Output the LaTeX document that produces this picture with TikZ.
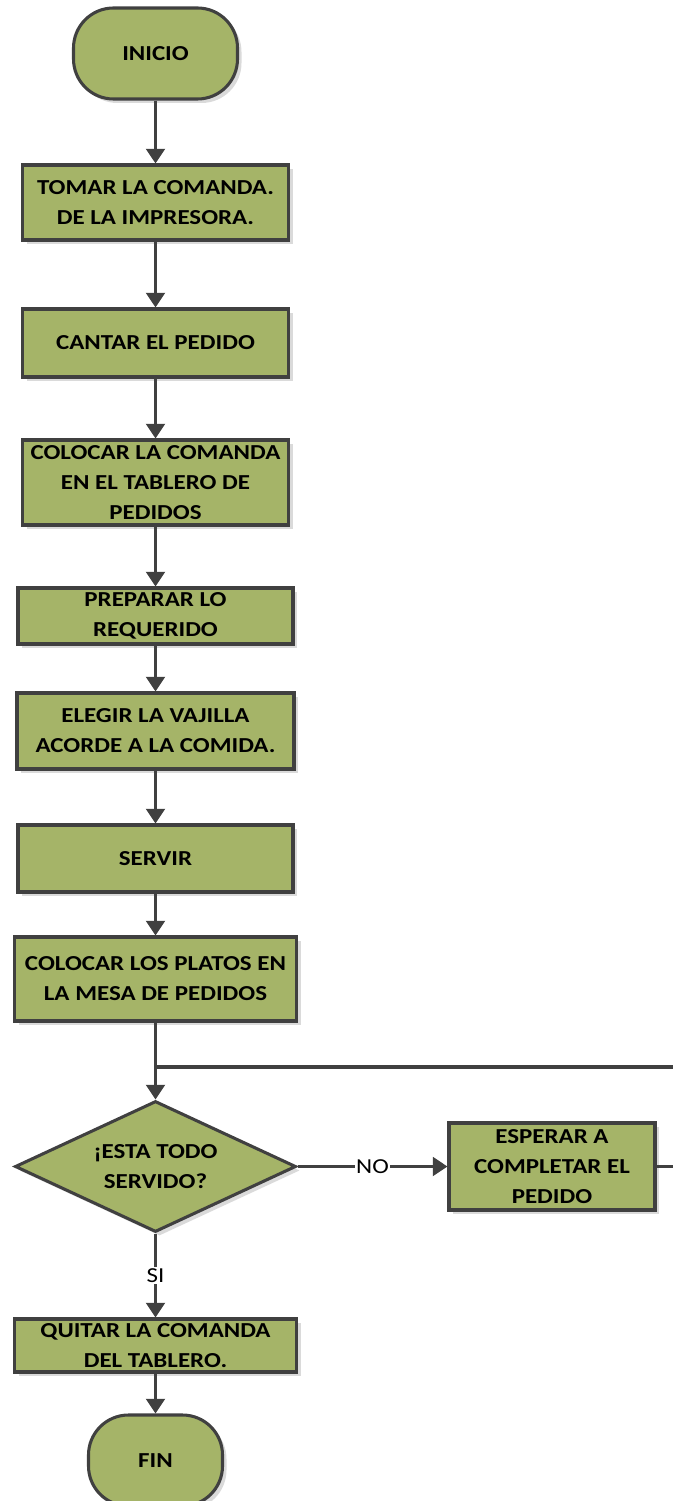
\documentclass[tikz,border=0pt]{standalone}
\usepackage{fontspec}
\setmainfont{Carlito}[FakeStretch=1.17]
\usetikzlibrary{arrows.meta,shapes.geometric,shadows}
\definecolor{boxfill}{RGB}{165,180,104}
\definecolor{edge}{RGB}{64,64,64}
\definecolor{shade}{RGB}{218,218,218}
\tikzset{
  txt/.style={align=center, inner sep=0pt, font=\bfseries\fontsize{16}{22.5}\selectfont},
  base/.style={draw=edge, line width=2.3pt, fill=boxfill, inner sep=0pt, txt,
    drop shadow={shadow xshift=3pt, shadow yshift=-3pt, fill=shade, opacity=1}},
  proc/.style={base, rectangle},
  term/.style={base, rectangle, rounded corners=30pt},
  decis/.style={base, diamond},
  conn/.style={draw=edge, line width=2.3pt},
  arr/.style={conn, -{Triangle[width=14pt,length=11pt]}},
  lbl/.style={fill=white, inner sep=1pt, font=\fontsize{16}{18}\selectfont}
}
\begin{document}
\begin{tikzpicture}[x=0.75pt,y=-0.75pt]
\useasboundingbox (0,0) rectangle (673,1501);
\node[term, minimum width=123pt, minimum height=68.25pt] (ini) at (155.5,53.5) {INICIO};
\node[proc, minimum width=199.5pt, minimum height=56.25pt] (b1) at (155.5,202.5) {TOMAR LA COMANDA.\\DE LA IMPRESORA.};
\node[proc, minimum width=199.5pt, minimum height=51pt] (b2) at (155.5,343) {CANTAR EL PEDIDO};
\node[proc, minimum width=199.5pt, minimum height=63.75pt] (b3) at (155.5,482.5) {COLOCAR LA COMANDA\\EN EL TABLERO DE\\PEDIDOS};
\node[proc, minimum width=206.25pt, minimum height=42pt] (b4) at (155.5,616) {PREPARAR LO\\REQUERIDO};
\node[proc, minimum width=207.75pt, minimum height=57pt] (b5) at (155.5,731) {ELEGIR LA VAJILLA\\ACORDE A LA COMIDA.};
\node[proc, minimum width=206.25pt, minimum height=50.25pt] (b6) at (155.5,858.5) {SERVIR};
\node[proc, minimum width=211.5pt, minimum height=63pt] (b7) at (155.5,979) {COLOCAR LOS PLATOS EN\\LA MESA DE PEDIDOS};
\node[decis, minimum width=210.75pt, minimum height=98.25pt,
      label={[txt]center:¡ESTA TODO\\SERVIDO?}] (dec) at (155.5,1166.5) {};
\node[proc, minimum width=154.5pt, minimum height=65.25pt] (esp) at (552,1166.5) {ESPERAR A\\COMPLETAR EL\\PEDIDO};
\node[proc, minimum width=211.5pt, minimum height=39.75pt] (quit) at (155.5,1345.5) {QUITAR LA COMANDA\\DEL TABLERO.};
\node[term, minimum width=100.5pt, minimum height=68.25pt] (fin) at (155.5,1460.5) {FIN};
\coordinate (j) at (155.5,1067);
\coordinate (r) at (700,1166.5);
\draw[arr] (ini) -- (b1);
\draw[arr] (b1) -- (b2);
\draw[arr] (b2) -- (b3);
\draw[arr] (b3) -- (b4);
\draw[arr] (b4) -- (b5);
\draw[arr] (b5) -- (b6);
\draw[arr] (b6) -- (b7);
\draw[arr] (b7) -- (dec);
\draw[arr] (dec) -- node[lbl] (no) {NO} (esp);
\draw[arr] (dec) -- node[lbl] (si) {SI} (quit);
\draw[arr] (quit) -- (fin);
\draw[conn] (esp.east) -- (r) |- (j);
\end{tikzpicture}
\end{document}
